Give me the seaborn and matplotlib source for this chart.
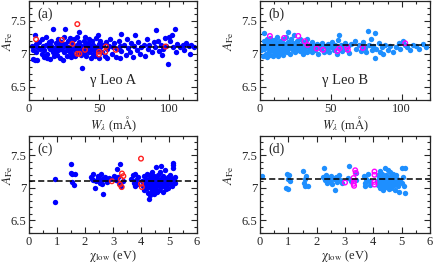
import numpy as np
import pandas as pd
import matplotlib
matplotlib.use("Agg")
import matplotlib.pyplot as plt
import seaborn as sns
from matplotlib.ticker import MultipleLocator

# gamma Leo A, Fe lines vs equivalent width (panel a)
a_w = [2, 3, 3, 4, 4, 5, 5, 6, 6, 7, 8, 9, 9, 10,
       11, 11, 12, 12, 13, 13, 14, 14, 15, 15, 16, 16, 17, 17, 18, 18, 19, 19, 20, 20,
       21, 21, 22, 22, 23, 23, 24, 24, 25, 25, 26, 26, 27, 27, 28, 28, 29, 29, 30, 30,
       31, 31, 32, 32, 33, 33, 34, 34, 35, 35, 36, 36, 37, 37, 38, 38, 39, 39, 40, 40,
       41, 41, 42, 42, 43, 43, 44, 44, 45, 45, 46, 46, 47, 47, 48, 48, 49, 49, 50, 50,
       51, 51, 52, 53, 54, 55, 56, 56, 57, 58, 59, 60, 61, 62, 63, 64, 65, 65, 66, 66,
       68, 69, 70, 71, 72, 73, 74, 75, 76, 77, 78, 79, 80, 82, 83, 84, 85, 86, 88, 89,
       90, 91, 92, 93, 94, 95, 96, 97, 98, 99, 100, 101, 102, 103, 104, 105, 106, 108,
       110, 111, 112, 114, 115, 116, 118]
a_abund = [7.12, 7.05, 6.92, 7.29, 6.90, 7.15, 7.02, 7.10, 6.91, 7.18, 7.08, 7.00, 7.22, 7.12,
           7.05, 6.95, 7.26, 7.14, 7.00, 6.93, 7.10, 7.18, 6.92, 7.07, 7.20, 7.12, 7.38, 7.02, 7.09, 6.96, 7.16, 7.04, 7.12, 6.98,
           7.22, 7.06, 7.14, 6.93, 7.08, 7.18, 6.90, 7.11, 7.25, 7.02, 7.38, 7.15, 7.06, 6.97, 7.20, 7.10, 7.03, 7.24, 6.95, 7.08,
           7.17, 7.00, 7.12, 7.22, 7.06, 6.96, 7.14, 7.26, 7.09, 7.03, 7.33, 7.18, 6.98, 7.12, 6.79, 7.07, 7.20, 7.01, 7.13, 7.25,
           7.05, 6.97, 7.16, 7.10, 7.02, 7.22, 6.94, 7.12, 7.08, 7.19, 7.00, 7.14, 7.06, 6.96, 7.11, 7.24, 7.29, 7.04, 7.15, 6.93,
           7.10, 7.20, 7.02, 7.13, 6.97, 7.18, 7.07, 6.94, 7.12, 7.22, 7.00, 7.10, 7.16, 6.95, 7.08, 7.20, 6.94, 7.12, 7.30, 7.04,
           7.14, 6.98, 7.22, 7.09, 7.02, 7.16, 6.95, 7.12, 7.28, 7.06, 7.18, 7.00, 7.10, 7.14, 6.97, 7.22, 7.08, 7.13, 7.02, 7.18,
           7.10, 7.36, 7.20, 7.04, 7.14, 6.98, 7.08, 7.24, 7.12, 6.84, 7.26, 7.20, 7.28, 7.10, 7.37, 7.02, 7.15, 7.10,
           7.13, 7.06, 7.17, 7.12, 7.00, 7.14, 7.10]
# lines flagged in gamma Leo A (open circles)
a_flag_w = [5, 23.5, 31, 34.5, 34.5, 36, 40, 50, 50, 55, 54.5, 62, 97.5]
a_flag_abund = [7.22, 7.21, 7.15, 7.45, 7.00, 7.00, 7.06, 7.03, 6.99, 7.11, 7.03, 7.06, 7.11]

# gamma Leo B vs equivalent width (panel b)
b_w = [1, 2, 2, 3, 3, 3, 4, 4, 5, 5, 5, 6, 6, 7, 7, 7, 8, 8, 9, 9, 10, 10, 10,
       11, 11, 11, 12, 12, 12, 13, 13, 14, 14, 14, 15, 15, 16, 16, 16, 17, 17, 18, 18, 19, 19, 20, 20, 20,
       21, 21, 22, 22, 23, 23, 24, 24, 25, 25, 26, 26, 27, 27, 28, 28, 29, 29, 30, 30,
       31, 31, 32, 33, 33, 34, 35, 35, 36, 37, 37, 38, 39, 40, 41, 41, 42, 43, 44, 45,
       46, 47, 48, 49, 50, 51, 52, 53, 54, 55, 56, 56, 57, 58, 59, 60, 61, 62, 63, 64,
       67, 68, 70, 71, 72, 73, 74, 75, 76, 77, 78, 79, 80, 81, 81, 82, 84, 85, 86, 87, 88, 90,
       92, 94, 96, 98, 99, 101, 102, 104, 106, 108, 110, 112, 115, 117]
b_abund = [7.05, 7.12, 6.97, 7.32, 7.08, 7.20, 7.00, 7.15, 6.95, 7.10, 7.22, 7.04, 7.16, 6.98, 7.12, 7.24, 7.06, 7.18, 6.96, 7.10, 7.02, 7.14, 7.21,
           7.08, 6.99, 7.18, 7.12, 7.04, 7.25, 6.97, 7.14, 7.08, 7.20, 7.01, 7.16, 7.06, 7.11, 6.98, 7.22, 7.04, 7.15, 7.09, 7.26, 7.02, 7.13, 7.33, 7.18, 7.07,
           7.10, 7.00, 7.22, 7.14, 7.05, 7.17, 7.28, 7.09, 7.12, 7.02, 7.20, 7.06, 7.15, 7.10, 7.23, 7.04, 7.13, 7.08, 7.18, 7.00,
           7.11, 7.06, 7.16, 7.03, 7.22, 7.10, 7.06, 7.14, 7.09, 7.02, 7.18, 7.12, 7.05, 7.15, 7.10, 7.00, 7.13, 7.07, 7.17, 7.03,
           7.12, 7.08, 7.15, 7.02, 7.10, 7.18, 7.06, 7.13, 7.00, 7.21, 7.28, 7.09, 7.14, 7.04, 7.10, 7.17, 7.07, 7.12, 7.01, 7.15,
           7.20, 7.08, 7.14, 7.04, 7.11, 7.18, 7.09, 7.02, 7.35, 7.14, 7.22, 7.06, 7.12, 7.31, 6.94, 7.08, 7.16, 7.03, 7.10, 7.00, 7.14, 7.06,
           7.12, 7.02, 7.10, 7.16, 7.08, 7.20, 7.13, 7.10, 7.06, 7.14, 7.12, 7.07, 7.15, 7.10]
b_flag_w = [7, 17, 27, 31.5, 33.5, 40, 44.5, 54.5, 56, 61.5, 62, 72.5, 102.5]
b_flag_abund = [7.27, 7.24, 7.27, 7.19, 7.135, 7.08, 7.06, 7.04, 7.08, 7.10, 7.06, 7.09, 7.16]

# gamma Leo A vs excitation potential (panel c)
c_chi = [0.93, 0.93,
         1.50, 1.50, 1.52, 1.55, 1.60, 1.65,
         2.22, 2.25, 2.28, 2.30, 2.35, 2.38, 2.45, 2.48, 2.52, 2.55, 2.58, 2.60, 2.62, 2.65, 2.70, 2.75, 2.80, 2.85, 2.90,
         3.05, 3.10, 3.16, 3.18, 3.22, 3.25, 3.30, 3.35,
         3.65, 3.72, 3.75, 3.78, 3.80, 3.82, 3.85, 3.90,
         4.05, 4.08, 4.10, 4.12, 4.15, 4.18, 4.20, 4.20, 4.22, 4.25, 4.25, 4.28, 4.29, 4.30, 4.32, 4.33,
         4.35, 4.36, 4.38, 4.40, 4.40, 4.42, 4.44, 4.45, 4.47, 4.48, 4.50, 4.50, 4.52, 4.53, 4.55, 4.57,
         4.58, 4.60, 4.62, 4.63, 4.65, 4.67, 4.68, 4.70, 4.72, 4.73, 4.75, 4.77, 4.78, 4.80, 4.82, 4.85,
         4.85, 4.88, 4.90, 4.92, 4.95, 4.98, 5.00, 5.05, 5.08, 5.10, 5.12, 5.15, 5.15, 5.16, 5.18, 5.20, 5.22]
c_abund = [7.14, 6.78,
           7.36, 7.23, 7.09, 7.21, 7.04, 7.21,
           7.16, 7.14, 7.22, 7.12, 7.00, 7.10, 7.15, 7.18, 7.12, 7.08, 7.22, 7.06, 7.14, 6.91, 7.17, 7.12, 7.09, 7.15, 7.13,
           7.18, 7.12, 7.29, 7.16, 7.08, 7.36, 7.02, 7.10,
           7.14, 7.20, 7.08, 7.02, 7.22, 7.12, 7.05, 7.16,
           7.10, 7.02, 7.18, 6.96, 7.08, 7.14, 7.22, 7.00, 7.06, 6.92, 7.12, 7.20, 6.82, 7.04, 7.10, 6.88,
           7.16, 7.00, 7.25, 7.08, 6.95, 7.13, 7.03, 6.90, 7.18, 7.06, 7.11, 6.98, 7.32, 7.02, 7.15, 6.93,
           7.08, 7.20, 7.04, 7.12, 6.96, 7.09, 7.24, 7.01, 7.14, 7.34, 7.06, 6.94, 7.11, 7.18, 7.03, 7.28,
           7.08, 6.98, 7.13, 7.05, 7.16, 7.00, 7.10, 7.20, 7.06, 7.14, 7.02, 7.39, 7.35, 7.31, 7.12, 7.08, 7.16]
c_flag_chi = [2.96, 3.32, 3.37, 3.28, 3.25, 3.31, 4.00, 4.00, 4.03]
c_flag_abund = [7.10, 7.22, 7.18, 7.13, 7.05, 7.01, 7.45, 7.06, 7.01]

# gamma Leo B vs excitation potential (panel d)
d_chi = [0.08,
         0.92, 0.95, 0.98, 0.98, 1.02, 1.05,
         1.52, 1.55, 1.58, 1.60, 1.62, 1.68,
         2.22, 2.25, 2.28, 2.32, 2.38, 2.42, 2.48, 2.52, 2.55, 2.60, 2.64, 2.68, 2.72, 2.78, 2.82, 2.88,
         3.10, 3.14, 3.20, 3.38, 3.40,
         3.68, 3.70, 3.72, 3.75, 3.80, 3.85, 3.88,
         4.12, 4.15, 4.18, 4.20, 4.22, 4.24, 4.26, 4.28, 4.30, 4.30, 4.32, 4.34, 4.36, 4.38, 4.40, 4.40,
         4.42, 4.44, 4.46, 4.48, 4.50, 4.50, 4.52, 4.54, 4.56, 4.58, 4.60, 4.60, 4.62, 4.64, 4.66, 4.68,
         4.70, 4.72, 4.74, 4.76, 4.78, 4.80, 4.82, 4.85, 4.88, 4.90, 4.95, 5.00, 5.02, 5.05, 5.08, 5.10, 5.10]
d_abund = [7.18,
           6.99, 7.21, 7.14, 6.98, 7.19, 7.11,
           7.26, 7.08, 7.14, 7.03, 7.18, 7.02,
           7.17, 7.30, 7.12, 7.20, 7.08, 7.15, 7.10, 7.18, 7.06, 7.13, 6.96, 7.16, 7.09, 7.19, 7.12, 7.07,
           7.15, 7.34, 7.10, 7.23, 7.12,
           7.18, 7.08, 7.02, 7.14, 7.22, 7.10, 7.04,
           7.10, 7.20, 7.04, 7.14, 7.00, 7.26, 7.08, 7.16, 7.02, 7.22, 7.12, 6.97, 7.09, 7.18, 7.05, 7.30,
           7.13, 7.01, 7.20, 7.07, 7.15, 7.28, 7.03, 7.11, 6.98, 7.17, 7.06, 7.24, 7.12, 7.00, 7.14, 7.09,
           7.22, 7.04, 7.16, 6.96, 7.10, 7.19, 7.06, 7.13, 7.02, 6.94, 7.11, 7.30, 7.08, 7.16, 7.02, 7.31, 6.92]
d_flag_chi = [3.00, 3.36, 3.38, 3.30, 3.32, 3.30, 3.32, 4.04, 4.04, 4.04, 4.04]
d_flag_abund = [7.08, 7.27, 7.23, 7.15, 7.10, 7.06, 7.03, 7.25, 7.20, 7.09, 7.05]

mean_a = 7.10
mean_b = 7.13

sns.set_style("ticks")
plt.rcParams['font.family'] = ['Liberation Serif', 'DejaVu Serif']
plt.rcParams['mathtext.fontset'] = 'stix'
plt.rcParams['font.size'] = 9

W, H = 436, 263
fig = plt.figure(figsize=(W / 100, H / 100), dpi=100)


def make_axes(x0, y_top, w, h):
    return fig.add_axes([x0 / W, (H - y_top - h) / H, w / W, h / H])


ax_a = make_axes(29, 1, 168, 99)
ax_b = make_axes(260, 1, 170, 99)
ax_c = make_axes(29, 136, 168, 97)
ax_d = make_axes(260, 136, 170, 97)

panels = [
    (ax_a, a_w, a_abund, a_flag_w, a_flag_abund, '#0000ff', '#ff2020', mean_a, '(a)', 'γ Leo A', -0.085),
    (ax_b, b_w, b_abund, b_flag_w, b_flag_abund, '#1e8fff', '#ff00ff', mean_b, '(b)', 'γ Leo B', -0.14),
    (ax_c, c_chi, c_abund, c_flag_chi, c_flag_abund, '#0000ff', '#ff2020', mean_a, '(c)', None, -0.085),
    (ax_d, d_chi, d_abund, d_flag_chi, d_flag_abund, '#1e8fff', '#ff00ff', mean_b, '(d)', None, -0.14),
]

for ax, xs, ys, fx, fy, col, fcol, mean, lab, star, ylab_x in panels:
    df = pd.DataFrame({'x': xs, 'y': ys})
    sns.scatterplot(data=df, x='x', y='y', ax=ax, color=col, s=15, linewidth=0, zorder=2)
    dff = pd.DataFrame({'x': fx, 'y': fy})
    sns.scatterplot(data=dff, x='x', y='y', ax=ax, s=11, facecolor='none',
                    edgecolor=fcol, linewidth=1.0, zorder=3)
    ax.axhline(mean, color='black', ls=(0, (4, 2)), lw=1.1, zorder=4)
    ax.set_ylim(6.3, 7.8)
    ax.yaxis.set_minor_locator(MultipleLocator(0.1))
    ax.set_yticks([6.5, 7.0, 7.5])
    ax.set_yticklabels(['6.5', '7', '7.5'])
    ax.set_ylabel(r'$A_{\rm Fe}$', fontsize=9.5)
    ax.yaxis.set_label_coords(ylab_x, 0.6)
    ax.text(0.05, 0.93, lab, transform=ax.transAxes, ha='left', va='top', fontsize=10)
    if star is not None:
        ax.text(0.5, 0.2, star, transform=ax.transAxes, ha='center', va='center', fontsize=10.5)
    ax.tick_params(which='both', direction='in', top=True, right=True, labelsize=9, pad=2)
    ax.tick_params(which='major', length=4, width=0.8)
    ax.tick_params(which='minor', length=2.2, width=0.8)
    for sp in ax.spines.values():
        sp.set_linewidth(0.9)

for ax in (ax_a, ax_b):
    ax.set_xlim(0, 120)
    ax.xaxis.set_major_locator(MultipleLocator(50))
    ax.xaxis.set_minor_locator(MultipleLocator(10))
    ax.set_xlabel(r'$W_{\lambda}$ (m$\rm\AA$)', labelpad=0)

for ax in (ax_c, ax_d):
    ax.set_xlim(0, 6)
    ax.xaxis.set_major_locator(MultipleLocator(1))
    ax.xaxis.set_minor_locator(MultipleLocator(0.5))
    ax.set_xlabel(r'$\mathrm{χ}_{\rm low}$ (eV)', labelpad=0)

fig.savefig('out.png', dpi=100)
